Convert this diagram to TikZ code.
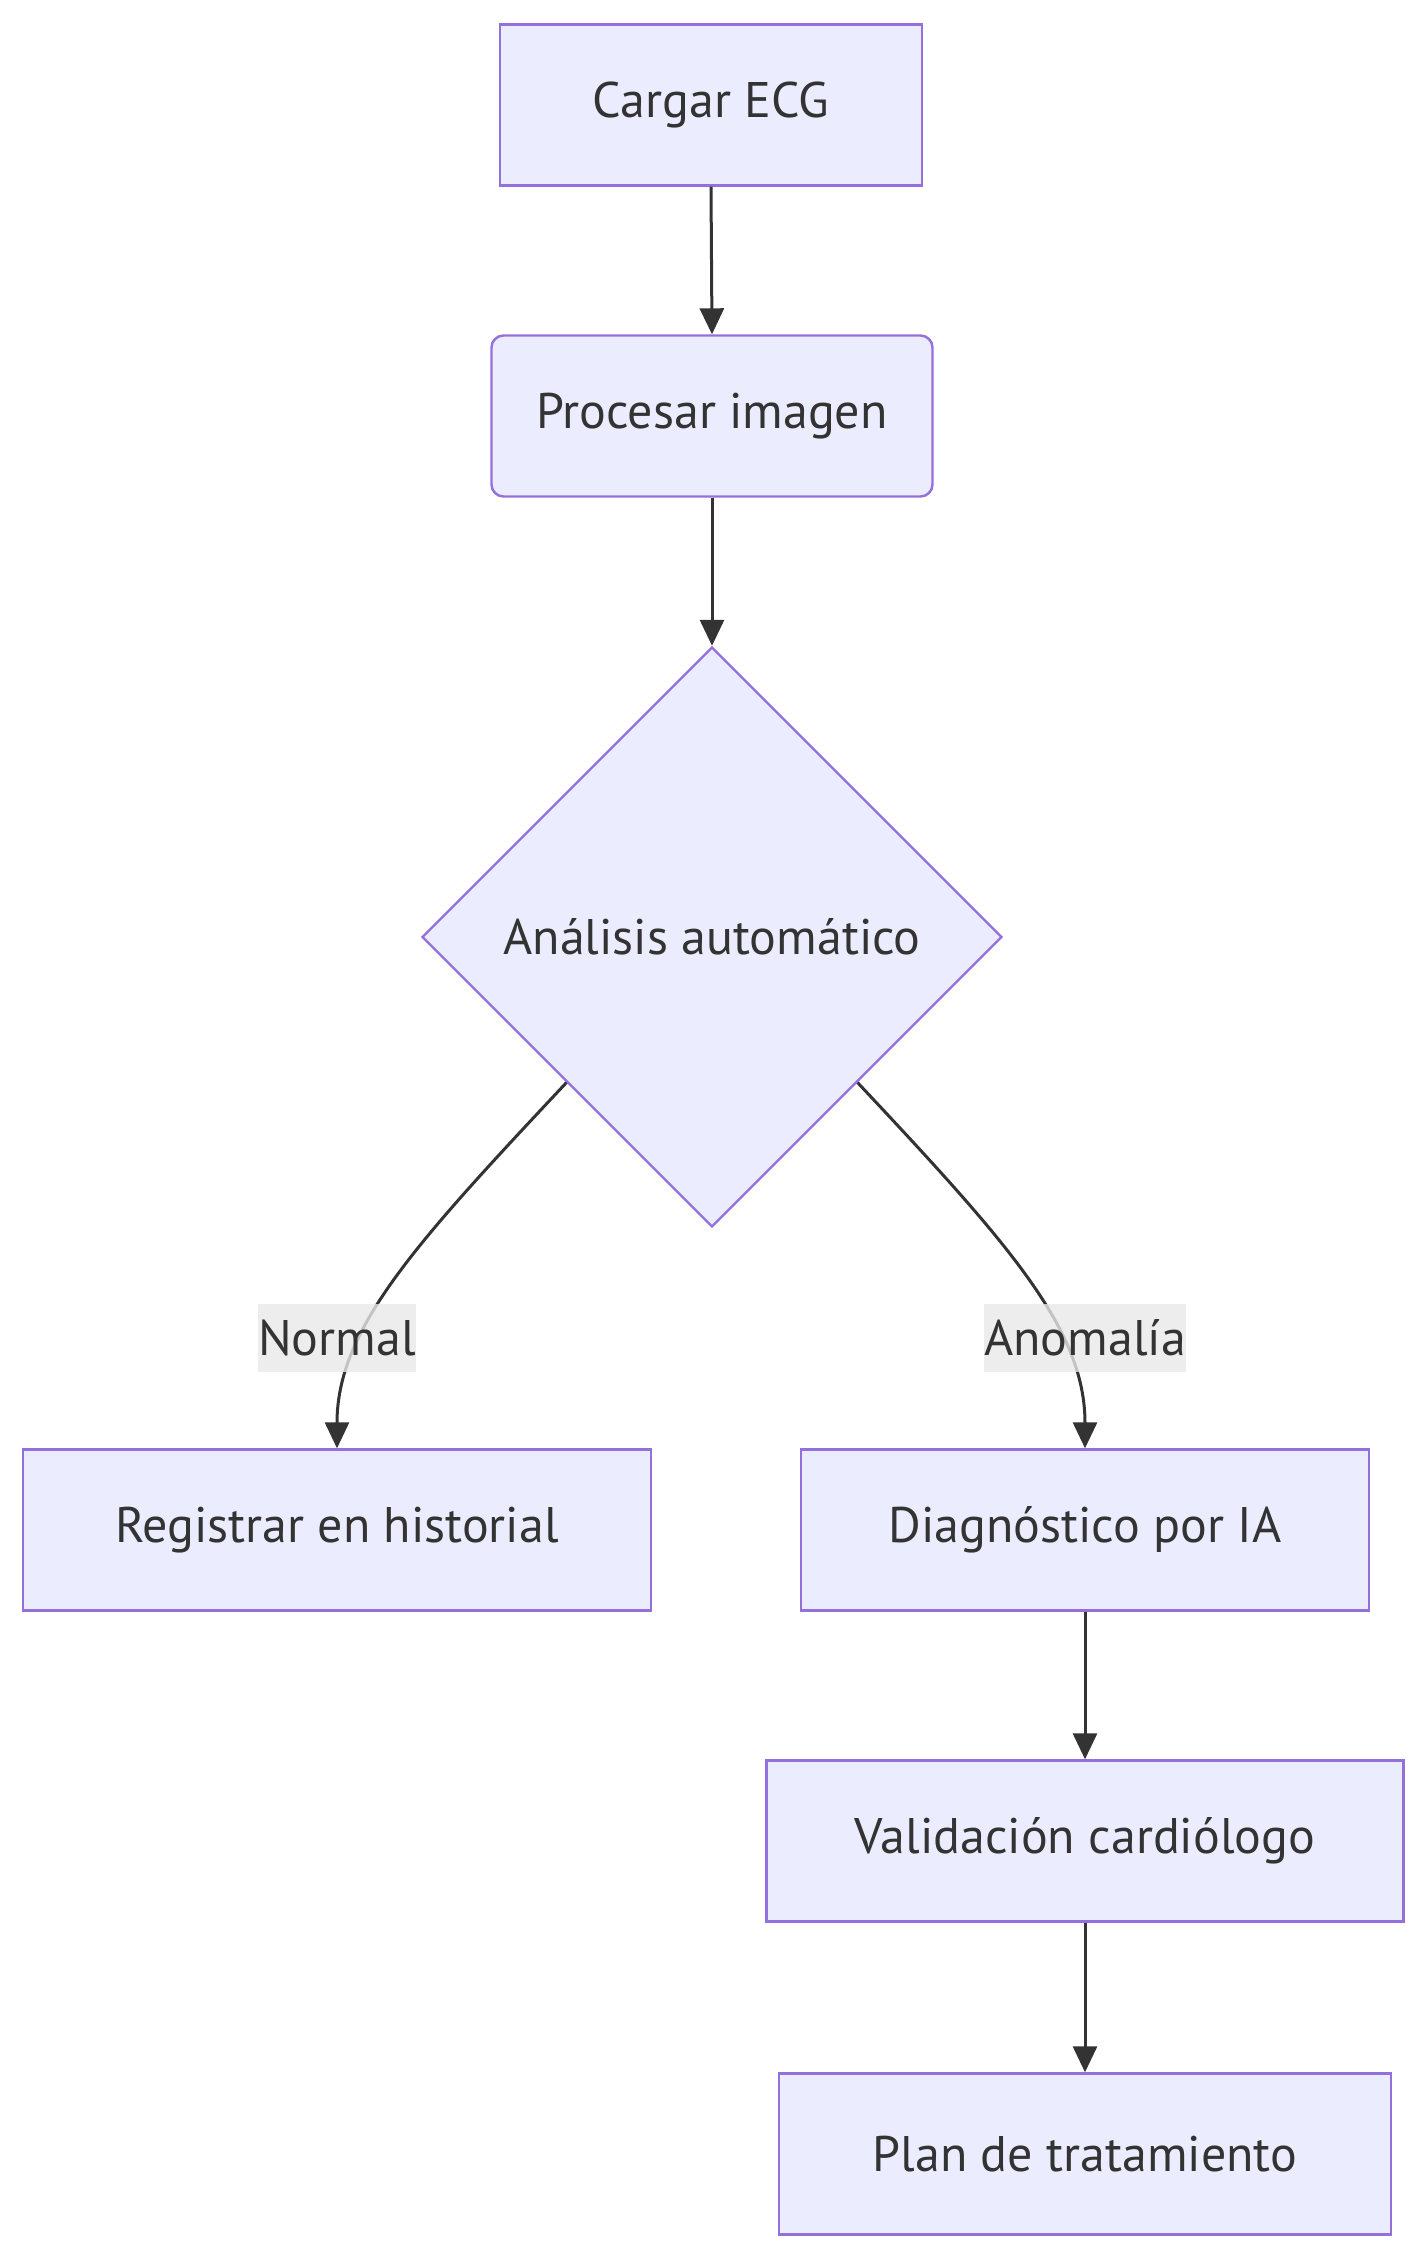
\documentclass[tikz,border=0pt]{standalone}
\usepackage{fontspec}
\setmainfont{PT Sans}
\usepackage[]{xcolor}
\usetikzlibrary{positioning,shapes.geometric,arrows.meta}
\definecolor{cajafondo}{HTML}{ECECFF}
\definecolor{cajaborde}{HTML}{9370DB}
\definecolor{linea}{HTML}{333333}
\definecolor{etiqfondo}{HTML}{E8E8E8}
\tikzset{paso/.style={draw=cajaborde,fill=cajafondo,line width=1.2pt,minimum height=80.5pt,text=linea,font=\fontsize{25}{30}\selectfont},
  decision/.style={diamond,aspect=1,draw=cajaborde,fill=cajafondo,line width=1.2pt,inner sep=0pt,minimum width=290pt,minimum height=290pt,text=linea,font=\fontsize{25}{30}\selectfont},
  flecha/.style={-{Triangle[length=13pt,width=12pt]},line width=1.5pt,draw=linea},
  etiqueta/.style={fill=etiqfondo,fill opacity=0.8,text opacity=1,inner xsep=0pt,minimum height=34pt,text=linea,font=\fontsize{25}{30}\selectfont}}

\begin{document}
\begin{tikzpicture}[x=0.5pt,y=-0.5pt] % 1 unidad = 1 px
        \useasboundingbox (0,0) rectangle (1428,2260);
        \node[paso,minimum width=211pt] (cargar) at (711,105) {Cargar ECG};
        \node[paso,rounded corners=6pt,minimum width=220.5pt] (procesar) at (712,416) {Procesar imagen};
        \node[decision] (analisis) at (712,937) {Análisis automático};
        \node[paso,minimum width=314pt] (registrar) at (337,1530) {Registrar en historial};
        \node[paso,minimum width=284pt] (diagnostico) at (1085,1530) {Diagnóstico por IA};
        \node[paso,minimum width=318.5pt] (validacion) at (1085,1841) {Validación cardiólogo};
        \node[paso,minimum width=306pt] (plan) at (1085,2154) {Plan de tratamiento};
        % flechas
        \draw[flecha] (cargar.south) -- (procesar.north);
        \draw[flecha] (procesar.south) -- (analisis.north);
        \draw[flecha] (analisis.south west) .. controls +(-150,160) and +(0,-120) .. (registrar.north);
        \draw[flecha] (analisis.south east) .. controls +(150,160) and +(0,-120) .. (diagnostico.north);
        \draw[flecha] (diagnostico.south) -- (validacion.north);
        \draw[flecha] (validacion.south) -- (plan.north);
        % etiquetas
        \node[etiqueta] (normal) at (337,1338) {Normal};
        \node[etiqueta] (anomalia) at (1085,1338) {Anomalía};
\end{tikzpicture}
\end{document}
